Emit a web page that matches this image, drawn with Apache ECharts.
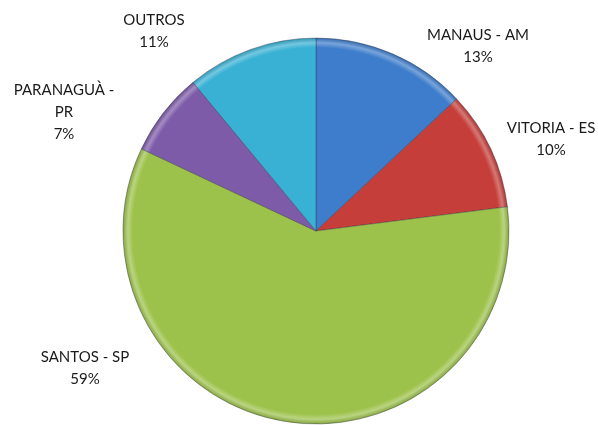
<!DOCTYPE html>
<html>
<head>
<meta charset="utf-8">
<script src="https://cdn.jsdelivr.net/npm/echarts@6/dist/echarts.min.js"></script>
<style>
  html, body { margin: 0; padding: 0; background: #fff; }
  #main { width: 598px; height: 425px; }
</style>
</head>
<body>
<div id="main"></div>
<script>
var myChart = echarts.init(document.getElementById('main'));

// data
var categories = ['MANAUS - AM', 'VITORIA - ES', 'SANTOS - SP', 'PARANAGUÀ - PR', 'OUTROS'];
var values = [13, 10, 59, 7, 11];
var colors = ['#3e7dcb', '#c53e3a', '#9dc24b', '#7d5ba8', '#39b1d4'];

// layout
var pie = { cx: 316, cy: 231, r: 193 };
// label block centres, like Excel placed them
var labelPos = [[478, 46], [551, 139], [85, 368], [64, 112], [154, 31]];

function shade(hex, amt) {
    var n = parseInt(hex.slice(1), 16);
    var r = (n >> 16) & 255, g = (n >> 8) & 255, b = n & 255;
    var f = function (c) {
        c = amt > 0 ? c + (255 - c) * amt : c * (1 + amt);
        return Math.round(Math.max(0, Math.min(255, c)));
    };
    return 'rgb(' + f(r) + ',' + f(g) + ',' + f(b) + ')';
}

var data = categories.map(function (name, i) {
    return {
        name: name,
        value: values[i],
        itemStyle: {
            color: new echarts.graphic.RadialGradient(pie.cx, pie.cy, pie.r, [
                { offset: 0, color: colors[i] },
                { offset: 0.95, color: colors[i] },
                { offset: 0.975, color: shade(colors[i], 0.3) },
                { offset: 1, color: shade(colors[i], -0.15) }
            ], true)
        }
    };
});

var option = {
    backgroundColor: '#fff',
    series: [{
        type: 'pie',
        center: [pie.cx, pie.cy],
        radius: pie.r,
        startAngle: 90,
        clockwise: true,
        avoidLabelOverlap: false,
        animation: false,
        itemStyle: {
            borderColor: 'rgba(40,40,60,0.45)',
            borderWidth: 0.8
        },
        label: {
            show: true,
            position: 'outside',
            color: '#1a1a1a',
            fontFamily: 'Lato, "Open Sans", sans-serif',
            fontSize: 15,
            lineHeight: 22,
            align: 'center',
            formatter: function (p) {
                var name = p.name.length > 12 ? p.name.replace(' - ', ' -\n') : p.name;
                return name + '\n' + Math.round(p.percent) + '%';
            }
        },
        labelLine: { show: false },
        labelLayout: function (params) {
            var p = labelPos[params.dataIndex];
            return { x: p[0], y: p[1], align: 'center', verticalAlign: 'middle' };
        },
        data: data
    }]
};
myChart.setOption(option);
</script>
</body>
</html>
